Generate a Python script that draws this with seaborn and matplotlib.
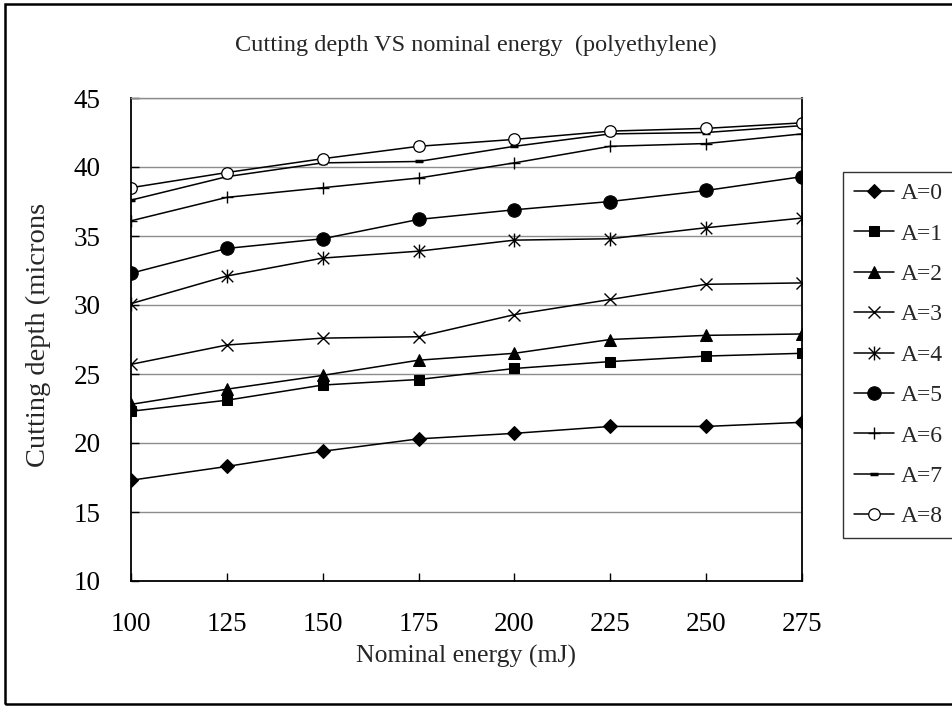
import matplotlib
matplotlib.use("Agg")
import matplotlib.pyplot as plt
import seaborn as sns
from matplotlib.path import Path
from matplotlib.patches import Rectangle

# ---- data ----
energy = [100, 125, 150, 175, 200, 225, 250, 275]
a0 = [17.3, 18.3, 19.4, 20.3, 20.7, 21.2, 21.2, 21.5]
a1 = [22.3, 23.1, 24.2, 24.6, 25.4, 25.9, 26.3, 26.5]
a2 = [22.8, 23.9, 24.9, 26.0, 26.5, 27.5, 27.8, 27.9]
a3 = [25.7, 27.1, 27.6, 27.7, 29.3, 30.4, 31.5, 31.6]
a4 = [30.1, 32.1, 33.4, 33.9, 34.7, 34.8, 35.6, 36.3]
a5 = [32.3, 34.1, 34.8, 36.2, 36.9, 37.5, 38.3, 39.3]
a6 = [36.1, 37.8, 38.5, 39.2, 40.3, 41.5, 41.7, 42.4]
a7 = [37.6, 39.3, 40.3, 40.4, 41.5, 42.4, 42.5, 43.0]
a8 = [38.5, 39.6, 40.6, 41.5, 42.0, 42.6, 42.8, 43.2]
labels = ["A=0", "A=1", "A=2", "A=3", "A=4", "A=5", "A=6", "A=7", "A=8"]
series = [a0, a1, a2, a3, a4, a5, a6, a7, a8]
yticks = [10, 15, 20, 25, 30, 35, 40, 45]

sns.set_theme(style="white")
plt.rcParams["font.family"] = ["Liberation Serif", "DejaVu Serif"]

W, H = 952, 708
fig = plt.figure(figsize=(W / 100, H / 100), dpi=100)
fig.patch.set_facecolor("white")

L, R, T, B = 131, 802, 98, 581
ax = fig.add_axes([L / W, 1 - B / H, (R - L) / W, (B - T) / H])
ax.set_facecolor("white")

star = Path([(-0.5, -0.5), (0.5, 0.5), (-0.5, 0.5), (0.5, -0.5), (0, -0.6), (0, 0.6)],
            [Path.MOVETO, Path.LINETO, Path.MOVETO, Path.LINETO, Path.MOVETO, Path.LINETO])

styles = [
    dict(marker="D", markersize=7.5, markerfacecolor="black"),
    dict(marker="s", markersize=7.5, markerfacecolor="black"),
    dict(marker="^", markersize=8.5, markerfacecolor="black"),
    dict(marker="x", markersize=8.5, markerfacecolor="none", markeredgewidth=1.0),
    dict(marker=star, markersize=10, markerfacecolor="none", markeredgewidth=1.0),
    dict(marker="o", markersize=9.7, markerfacecolor="black"),
    dict(marker="+", markersize=9, markerfacecolor="none", markeredgewidth=1.0),
    dict(marker="_", markersize=6, markerfacecolor="none", markeredgewidth=2.5),
    dict(marker="o", markersize=8.3, markerfacecolor="white", markeredgewidth=0.9),
]

for lab, vals, st in zip(labels, series, styles):
    sns.lineplot(x=energy, y=vals, ax=ax, color="black", linewidth=1.1,
                 label=lab, markeredgecolor="black", **st)

ax.set_xlim(100, 275)
ax.set_ylim(10, 45)
ax.set_xticks(energy)
ax.set_yticks(yticks)
ax.set_xlabel("")
ax.set_ylabel("")
ax.yaxis.grid(True, color="#8c8c8c", linewidth=1.0)
ax.xaxis.grid(False)
ax.set_axisbelow(True)
ax.tick_params(axis="both", direction="in", length=6, width=1, pad=22,
               labelsize=19.5, colors="black", left=True, bottom=True)
for s in ["left", "bottom", "right"]:
    ax.spines[s].set_color("black")
    ax.spines[s].set_linewidth(1.3)
ax.spines["top"].set_color("#8c8c8c")
ax.spines["top"].set_linewidth(1.0)

leg = ax.legend(loc="upper left", bbox_to_anchor=(843 / W, 1 - 172 / H),
                bbox_transform=fig.transFigure, frameon=True, fancybox=False,
                edgecolor="black", fontsize=17, handlelength=1.7,
                handletextpad=0.3, labelspacing=0.8, borderpad=0.45,
                borderaxespad=0)
leg.get_frame().set_linewidth(1.0)
leg.get_frame().set_facecolor("white")

fig.text(0.5, 1 - 45 / H, "Cutting depth VS nominal energy  (polyethylene)",
         ha="center", va="center", fontsize=17.5)
fig.text((L + R) / 2 / W, 1 - 656 / H, "Nominal energy (mJ)",
         ha="center", va="center", fontsize=18.5)
fig.text(38 / W, 1 - 467 / H, "Cutting depth (microns",
         ha="center", va="bottom", rotation=90, fontsize=20.5)

fig.patches.append(Rectangle((5 / W, 4 / H), 1.2, 1 - 8 / H, transform=fig.transFigure,
                             fill=False, edgecolor="black", linewidth=1.8))

fig.savefig("out.png", dpi=100)
